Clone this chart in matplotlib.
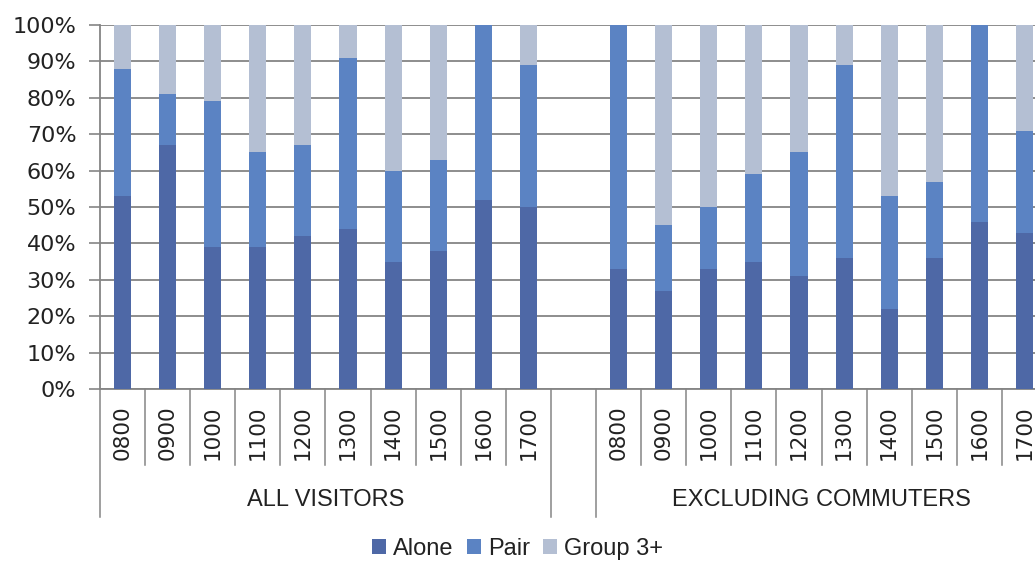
import numpy as np
import matplotlib.pyplot as plt
from matplotlib.transforms import blended_transform_factory

# Share of visitors by group size, per survey hour (percent)
hours = ['0800', '0900', '1000', '1100', '1200', '1300', '1400', '1500', '1600', '1700']
groups = ['ALL VISITORS', 'EXCLUDING COMMUTERS']

alone_all = [53, 67, 39, 39, 42, 44, 35, 38, 52, 50]
pair_all = [35, 14, 40, 26, 25, 47, 25, 25, 48, 39]
group3_all = [12, 19, 21, 35, 33, 9, 40, 37, 0, 11]

alone_exc = [33, 27, 33, 35, 31, 36, 22, 36, 46, 43]
pair_exc = [67, 18, 17, 24, 34, 53, 31, 21, 54, 28]
group3_exc = [0, 55, 50, 41, 35, 11, 47, 43, 0, 29]

c_alone = '#4E68A6'
c_pair = '#5B83C3'
c_group = '#B4BFD3'
text_c = '#222222'
line_c = '#858585'
label_font = ['Liberation Sans', 'DejaVu Sans']

fig = plt.figure(figsize=(10.35, 5.68), dpi=100)
ax = fig.add_axes([0.0966, 0.315, 0.915, 0.641])

# one blank slot between the two groups
n = len(hours)
x = np.concatenate([np.arange(n), np.arange(n) + n + 1])
alone = np.array(alone_all + alone_exc)
pair = np.array(pair_all + pair_exc)
group3 = np.array(group3_all + group3_exc)

w = 0.38
ax.bar(x, alone, w, color=c_alone, label='Alone', zorder=3)
ax.bar(x, pair, w, bottom=alone, color=c_pair, label='Pair', zorder=3)
ax.bar(x, group3, w, bottom=alone + pair, color=c_group, label='Group 3+', zorder=3)

ax.set_xlim(-0.5, 2 * n + 0.5)
ax.set_ylim(0, 100)
ax.set_yticks(np.arange(0, 101, 10))
ax.set_yticklabels([f'{v}%' for v in range(0, 101, 10)])
ax.tick_params(axis='y', labelsize=16, length=8, width=1.2, color=line_c,
               pad=9, labelcolor=text_c)
ax.grid(axis='y', color=line_c, linewidth=1.3, zorder=0)

ax.set_xticks(x)
ax.set_xticklabels(hours + hours, rotation=90, fontsize=15.5, color=text_c)
ax.tick_params(axis='x', length=0, pad=11.5)

for s in ['top', 'right']:
    ax.spines[s].set_visible(False)
for s in ['left', 'bottom']:
    ax.spines[s].set_color(line_c)
    ax.spines[s].set_linewidth(1.3)

# multi-level category axis: separators and group labels
tr = blended_transform_factory(ax.transData, ax.transAxes)
short_y, long_y = -0.209, -0.35
for g in range(2):
    start = g * (n + 1) - 0.5
    for k in range(1, n):
        ax.plot([start + k, start + k], [0, short_y], transform=tr,
                color=line_c, lw=1.1, clip_on=False)
    for edge in (start, start + n):
        ax.plot([edge, edge], [0, long_y], transform=tr,
                color=line_c, lw=1.1, clip_on=False)
    ax.text(start + n / 2, -0.305, groups[g], transform=tr, ha='center',
            va='center', fontsize=17, family=label_font, color=text_c)

fig.legend(loc='center', bbox_to_anchor=(0.5, 0.033), ncol=3, frameon=False,
           handlelength=0.6, handleheight=0.6, handletextpad=0.3,
           columnspacing=0.55, labelcolor=text_c,
           prop={'family': label_font, 'size': 17})

fig.savefig('out.png', dpi=100, facecolor='white')
